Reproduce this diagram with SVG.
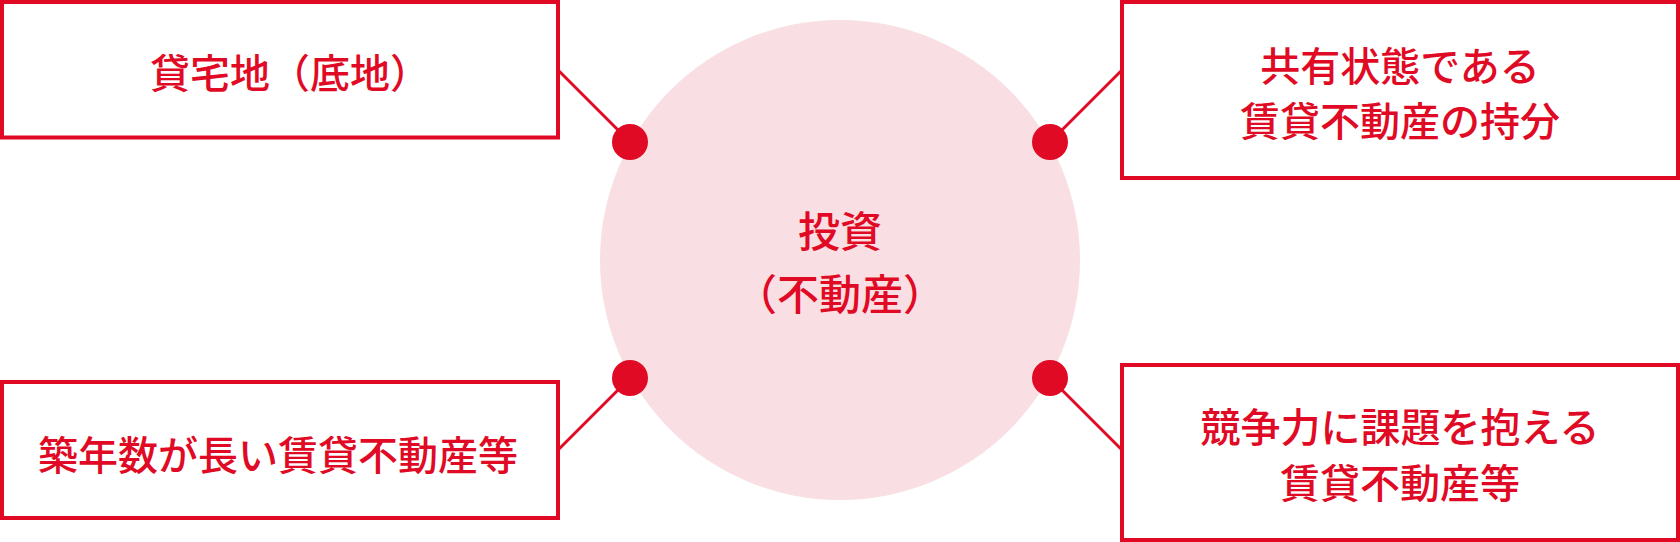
<svg xmlns="http://www.w3.org/2000/svg" width="1680" height="542" viewBox="0 0 1680 542">
  <style>
    .box { fill: #ffffff; stroke: #e00a25; stroke-width: 4; }
    .hub { fill: #f9dfe3; }
    .lbl { font-family: "Noto Sans CJK JP", "Noto Sans CJK SC", sans-serif; font-size: 40px; font-weight: 500; fill: #e00a25; text-anchor: middle; }
    .hubtxt { font-size: 42px; }
    .conn { stroke: #e00a25; stroke-width: 3; fill: none; marker-end: url(#dot); }
  </style>
  <defs>
    <marker id="dot" markerUnits="userSpaceOnUse" viewBox="0 0 40 40" markerWidth="40" markerHeight="40" refX="20" refY="20" orient="auto">
      <circle cx="20" cy="20" r="18" fill="#e00a25"/>
    </marker>
  </defs>
  <rect width="1680" height="542" fill="#ffffff"/>
  <g id="hub">
    <circle class="hub" cx="840" cy="260" r="240"/>
    <text class="lbl hubtxt" x="840" y="247">投資</text>
    <text class="lbl hubtxt" x="840" y="310">（不動産）</text>
  </g>
  <g id="connectors">
    <line class="conn" x1="558" y1="70" x2="630" y2="142"/>
    <line class="conn" x1="1122" y1="70" x2="1050" y2="142"/>
    <line class="conn" x1="558" y1="450" x2="630" y2="378"/>
    <line class="conn" x1="1122" y1="450" x2="1050" y2="378"/>
  </g>
  <g id="node-tl">
    <rect class="box" x="2" y="2" width="556" height="135.5"/>
    <text class="lbl" x="290" y="88">貸宅地（底地）</text>
  </g>
  <g id="node-tr">
    <rect class="box" x="1122" y="2" width="556" height="176"/>
    <text class="lbl" x="1400" y="81">共有状態である</text>
    <text class="lbl" x="1400" y="136">賃貸不動産の持分</text>
  </g>
  <g id="node-bl">
    <rect class="box" x="2" y="382" width="556" height="136"/>
    <text class="lbl" x="278" y="470">築年数が長い賃貸不動産等</text>
  </g>
  <g id="node-br">
    <rect class="box" x="1122" y="365" width="556" height="175"/>
    <text class="lbl" x="1400" y="442">競争力に課題を抱える</text>
    <text class="lbl" x="1400" y="498">賃貸不動産等</text>
  </g>
</svg>
